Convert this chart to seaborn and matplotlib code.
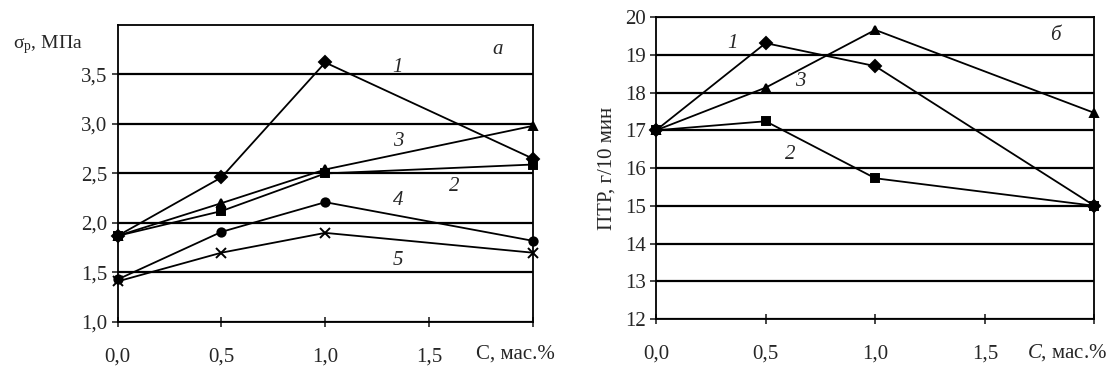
import numpy as np
import pandas as pd
import matplotlib
matplotlib.use("Agg")
import matplotlib.pyplot as plt
import seaborn as sns

# ---- data -------------------------------------------------------------
C_VALUES = [0.0, 0.5, 1.0, 2.0]

# panel a: tensile strength, MPa
SIGMA_1 = [1.87, 2.46, 3.62, 2.65]
SIGMA_2 = [1.87, 2.12, 2.50, 2.59]
SIGMA_3 = [1.87, 2.20, 2.54, 2.98]
SIGMA_4 = [1.43, 1.91, 2.21, 1.82]
SIGMA_5 = [1.41, 1.70, 1.90, 1.70]

# panel b: melt flow index, g/10 min
PTR_1 = [17.0, 19.31, 18.70, 15.0]
PTR_2 = [17.0, 17.24, 15.73, 15.0]
PTR_3 = [17.0, 18.13, 19.66, 17.46]

X_TICKS = [0.0, 0.5, 1.0, 1.5, 2.0]
X_TICK_LABELS = ["0,0", "0,5", "1,0", "1,5", ""]
Y_TICKS_A = [1.0, 1.5, 2.0, 2.5, 3.0, 3.5]
Y_TICK_LABELS_A = ["1,0", "1,5", "2,0", "2,5", "3,0", "3,5"]
Y_TICKS_B = list(range(12, 21))

sns.set_theme(style="white")
plt.rcParams["font.family"] = ["Liberation Serif", "DejaVu Serif"]
plt.rcParams["mathtext.fontset"] = "custom"
plt.rcParams["mathtext.it"] = "Liberation Serif:italic"
plt.rcParams["mathtext.rm"] = "Liberation Serif"

fig = plt.figure(figsize=(11.1, 3.71), dpi=100)
ax_a = fig.add_axes([0.106, 0.132, 0.374, 0.801])
ax_b = fig.add_axes([0.591, 0.140, 0.395, 0.814])


def draw(ax, series):
    for vals, mk in series:
        df = pd.DataFrame({"C": C_VALUES, "v": vals})
        sns.lineplot(data=df, x="C", y="v", ax=ax, color="black", lw=1.3,
                     marker=mk, markersize=6 if mk != "x" else 7,
                     markeredgecolor="black", markerfacecolor="black",
                     markeredgewidth=1.4, zorder=3, clip_on=False)


def style(ax, pad):
    ax.set_xlim(0, 2.0)
    ax.set_xticks(X_TICKS)
    ax.set_xticklabels(X_TICK_LABELS, fontsize=15)
    ax.yaxis.grid(True, color="black", lw=1.6)
    ax.xaxis.grid(False)
    for s in ax.spines.values():
        s.set_color("black")
        s.set_linewidth(1.3)
    ax.tick_params(axis="x", direction="inout", length=7, width=1.2,
                   bottom=True, pad=pad)
    ax.tick_params(axis="y", direction="out", length=4, width=1.2,
                   left=True, labelsize=15)
    ax.set_xlabel("")
    ax.set_ylabel("")


# ---- panel a ---------------------------------------------------------------
draw(ax_a, [(SIGMA_1, "D"), (SIGMA_2, "s"), (SIGMA_3, "^"),
            (SIGMA_4, "o"), (SIGMA_5, "x")])
style(ax_a, 15)
ax_a.set_ylim(1.0, 4.0)
ax_a.set_yticks(Y_TICKS_A)
ax_a.set_yticklabels(Y_TICK_LABELS_A)
fig.text(0.012, 0.88, "σ$_\\mathrm{р}$, МПа", fontsize=14, ha="left", va="center")
fig.text(0.500, 0.045, "C, мас.%", fontsize=15, ha="right", va="center")
for txt, x, y in [("1", 1.35, 3.57), ("3", 1.35, 2.82), ("2", 1.62, 2.37),
                  ("4", 1.35, 2.23), ("5", 1.35, 1.62), ("а", 1.83, 3.75)]:
    ax_a.text(x, y, txt, fontsize=15, style="italic", ha="center", va="center")

# ---- panel b ---------------------------------------------------------------
draw(ax_b, [(PTR_1, "D"), (PTR_2, "s"), (PTR_3, "^")])
style(ax_b, 15)
ax_b.set_ylim(12, 20)
ax_b.set_yticks(Y_TICKS_B)
ax_b.set_ylabel("ПТР, г/10 мин", fontsize=15, labelpad=6)
fig.text(0.997, 0.05, "$C$, мас.%", fontsize=15, ha="right", va="center")
for txt, x, y in [("1", 0.35, 19.31), ("3", 0.66, 18.3), ("2", 0.61, 16.35),
                  ("б", 1.82, 19.5)]:
    ax_b.text(x, y, txt, fontsize=15, style="italic", ha="center", va="center")

fig.savefig("out.png", dpi=100)
